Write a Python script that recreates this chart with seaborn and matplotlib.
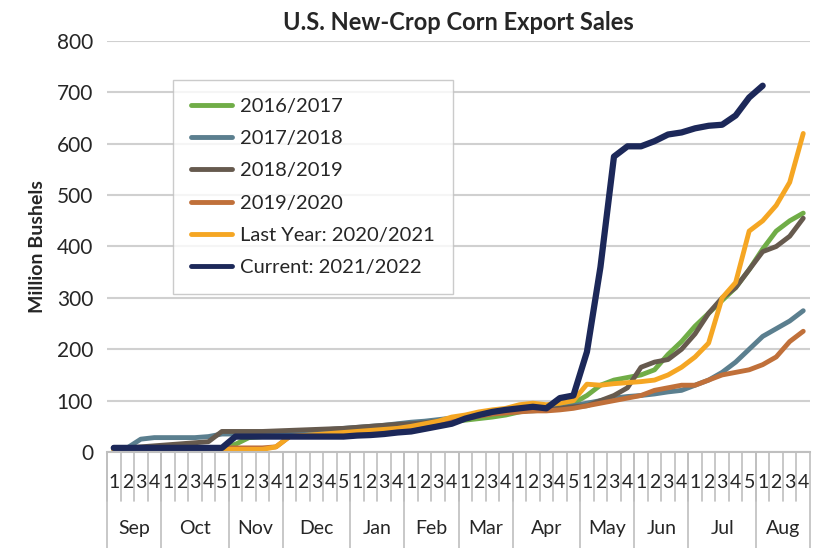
import matplotlib.pyplot as plt
import seaborn as sns
import pandas as pd
import numpy as np

months = ["Sep", "Oct", "Nov", "Dec", "Jan", "Feb", "Mar", "Apr", "May", "Jun", "Jul", "Aug"]
weeks_per_month = [4, 5, 4, 5, 4, 4, 4, 5, 4, 4, 5, 4]

s1617 = [5, 5, 5, 5, 5, 5, 5, 5, 8, 15, 28, 30, 30,
         32, 33, 34, 35, 36, 38, 40, 42, 44, 48, 52, 56, 60,
         62, 65, 68, 72, 78, 82, 86, 90, 95, 110, 130, 140, 145,
         150, 160, 190, 215, 245, 270, 295, 320, 355, 395, 430, 450, 465]
s1718 = [8, 8, 25, 28, 28, 28, 28, 30, 35, 35, 36, 36, 37,
         38, 40, 42, 44, 46, 48, 50, 52, 55, 58, 60, 63, 66,
         70, 74, 78, 80, 82, 84, 85, 86, 90, 95, 100, 105, 108,
         110, 113, 117, 120, 130, 140, 155, 175, 200, 225, 240, 255, 275]
s1819 = [8, 8, 10, 12, 14, 16, 18, 20, 40, 40, 40, 40, 41,
         42, 43, 44, 45, 46, 48, 50, 52, 54, 55, 57, 60, 62,
         65, 70, 75, 78, 80, 80, 82, 85, 88, 90, 100, 110, 125,
         165, 175, 180, 200, 230, 270, 300, 320, 355, 390, 400, 420, 455]
s1920 = [5, 5, 5, 5, 5, 6, 6, 7, 8, 8, 8, 8, 10,
         30, 31, 32, 33, 34, 35, 37, 39, 41, 43, 48, 55, 62,
         66, 70, 74, 76, 78, 80, 80, 82, 85, 90, 95, 100, 105,
         110, 120, 125, 130, 130, 140, 150, 155, 160, 170, 185, 215, 235]
s2021 = [5, 5, 5, 5, 5, 5, 5, 5, 5, 5, 5, 5, 10,
         30, 32, 34, 36, 38, 40, 42, 44, 46, 50, 55, 60, 68,
         72, 78, 82, 85, 92, 95, 92, 95, 100, 132, 130, 133, 135,
         137, 140, 150, 165, 185, 212, 300, 330, 430, 450, 480, 525, 620]
s2122 = [8, 8, 8, 8, 8, 8, 8, 8, 8, 30, 30, 30, 30,
         30, 30, 30, 30, 30, 32, 33, 35, 38, 40, 45, 50, 55,
         65, 72, 78, 82, 85, 88, 85, 105, 110, 195, 360, 575, 595,
         595, 605, 618, 622, 630, 635, 637, 655, 690, 713]

series = {
    "2016/2017": (s1617, "#70AD47"),
    "2017/2018": (s1718, "#5B7F8F"),
    "2018/2019": (s1819, "#665A4E"),
    "2019/2020": (s1920, "#C0703A"),
    "Last Year: 2020/2021": (s2021, "#F5A623"),
    "Current: 2021/2022": (s2122, "#1C2859"),
}

rows = []
for name, (vals, _) in series.items():
    for i, v in enumerate(vals):
        rows.append({"week": i, "value": v, "season": name})
df = pd.DataFrame(rows)

sns.set_style("white")
plt.rcParams["font.family"] = ["Lato", "DejaVu Sans"]
fig = plt.figure(figsize=(8.18, 5.48), dpi=100)
ax = fig.add_axes([107 / 818, 1 - 452 / 548, 703 / 818, 411 / 548])

palette = {k: c for k, (_, c) in series.items()}
sns.lineplot(data=df, x="week", y="value", hue="season", palette=palette, ax=ax,
             linewidth=3.5, legend=True)
for line in ax.lines:
    if line.get_color() == "#1C2859":
        line.set_linewidth(4.5)

ax.set_xlim(-0.5, 51.5)
ax.set_ylim(0, 800)
ax.set_yticks(range(0, 801, 100))
ax.tick_params(axis="y", labelsize=15, length=0, pad=10)
ax.set_xticks([])
ax.set_xlabel("")
ax.set_ylabel("Million Bushels", fontsize=14, fontweight="bold", labelpad=8)
ax.grid(axis="y", color="#D0D0D0", linewidth=1.5)
ax.grid(axis="x", visible=False)
for s in ["top", "right", "left"]:
    ax.spines[s].set_visible(False)
ax.spines["bottom"].set_color("#BFBFBF")
ax.spines["bottom"].set_linewidth(1.5)
ax.set_title("U.S. New-Crop Corn Export Sales", fontsize=17, fontweight="bold", pad=8)

# week / month axis below
trans = ax.get_xaxis_transform()
bound = -0.5
for m, n in zip(months, weeks_per_month):
    for w in range(n):
        ax.text(bound + w + 0.5, -0.075, str(w + 1), transform=trans, ha="center",
                va="center", fontsize=14)
        ax.plot([bound + w, bound + w], [0, -0.12], transform=trans, color="#BFBFBF",
                lw=1.2, clip_on=False)
    ax.plot([bound, bound], [0, -0.24], transform=trans, color="#BFBFBF", lw=1.2, clip_on=False)
    ax.text(bound + n / 2, -0.185, m, transform=trans, ha="center", va="center", fontsize=14)
    bound += n
ax.plot([bound, bound], [0, -0.24], transform=trans, color="#BFBFBF", lw=1.2, clip_on=False)

leg = ax.legend(loc="upper left", bbox_to_anchor=(0.08, 0.93), fontsize=14.5,
                frameon=True, fancybox=False, edgecolor="#BFBFBF", handlelength=2,
                handletextpad=0.4, labelspacing=0.75, borderpad=0.9)
for h in leg.get_lines():
    h.set_linewidth(3.5)

fig.savefig("out.png", dpi=100)
